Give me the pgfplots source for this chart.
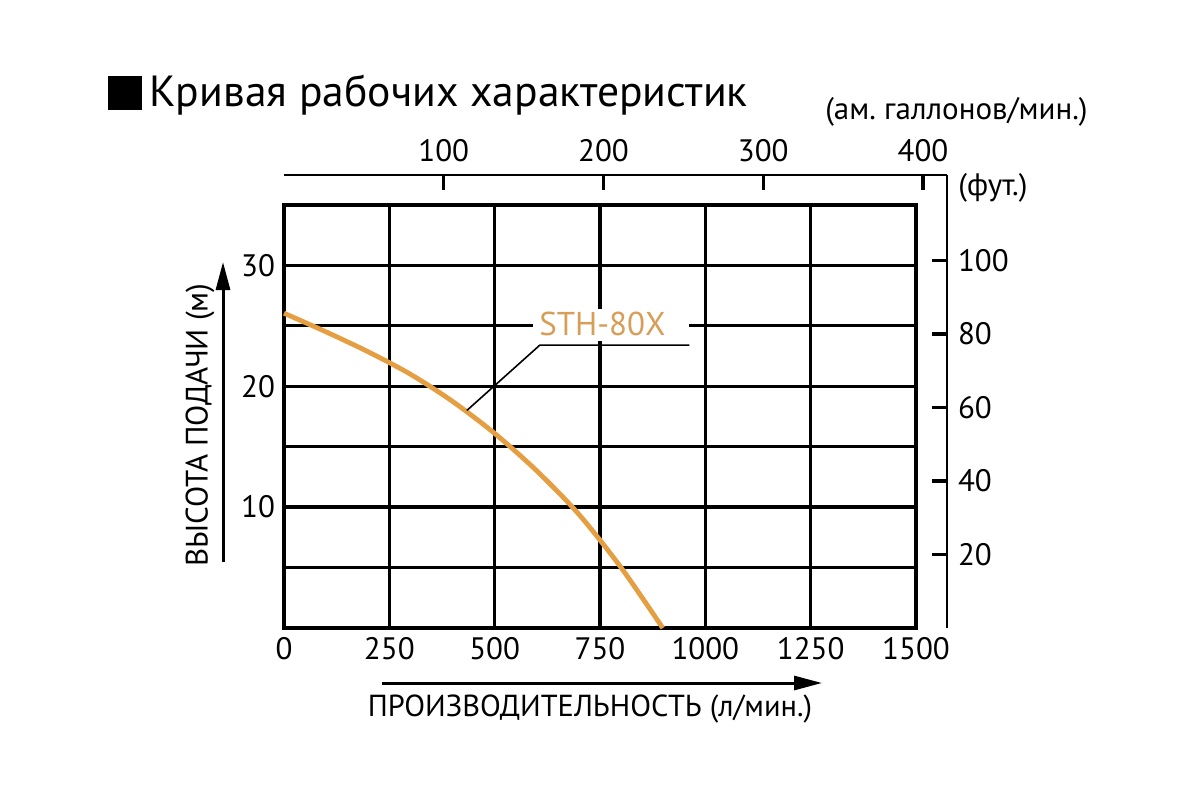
\documentclass[border=0pt]{standalone}
\usepackage{pgfplots}
\pgfplotsset{compat=1.18}
\usetikzlibrary{arrows.meta}
\usepackage{fontspec}
\setmainfont{PT Sans}
\frenchspacing
\definecolor{curve}{RGB}{230,158,66}
\definecolor{lbl}{RGB}{216,158,88}

\begin{document}
\begin{tikzpicture}
\useasboundingbox (0,0) rectangle (600pt,400pt);

% title
\fill (54pt,345pt) rectangle (71pt,362pt);
\node[anchor=base west, inner sep=0pt, font=\fontsize{21.8}{24}\selectfont] at (74.5pt,346.5pt) {Кривая рабочих характеристик};

% secondary scales: US gallons per minute (top) and feet (right)
\begin{axis}[
  at={(142pt,86pt)}, anchor=south west, scale only axis,
  width=331.5pt, height=226.5pt,
  xmin=0, xmax=415.0, ymin=0, ymax=123.3,
  axis x line*=top, axis y line*=right,
  xtick={100,200,300,400}, ytick={20,40,60,80,100},
  tick align=inside, major tick length=7.5pt,
  tick style={line width=1.6pt, black},
  axis line style={line width=1pt, black},
  tick label style={font=\fontsize{15.5}{18}\selectfont},
  /pgf/number format/assume math mode=true,
  xticklabel style={yshift=3pt},
  yticklabel style={xshift=2pt},
]
\end{axis}

% main chart: head (m) versus flow (l/min)
\begin{axis}[
  at={(142pt,86pt)}, anchor=south west, scale only axis,
  width=316pt, height=211.5pt,
  xmin=0, xmax=1500, ymin=0, ymax=35,
  xtick={0,250,...,1500}, ytick={10,20,30}, minor ytick={5,15,25},
  grid=both,
  major grid style={black, line width=1.75pt},
  minor grid style={black, line width=1.4pt},
  axis line style={line width=2pt, black},
  major tick length=0pt, minor tick length=0pt,
  tick label style={font=\fontsize{15.5}{18}\selectfont},
  /pgf/number format/assume math mode=true,
  /pgf/number format/1000 sep={},
  xticklabel style={yshift=-1pt},
  yticklabel style={xshift=-1pt},
  clip=false,
]
\addplot[curve, line width=2.4pt, smooth] coordinates {
  (0,26.05) (100,24.5) (200,22.85) (300,21.0) (400,18.75) (500,16.1)
  (600,13.0) (700,9.4) (800,5.0) (899,0)
};
% series label with leader line
\fill[white] (axis cs:590,26.4) rectangle (axis cs:962,23.75);
\draw[black, line width=0.8pt] (axis cs:434,18.0) -- (axis cs:607,23.4) -- (axis cs:962,23.4);
\node[anchor=west, inner sep=0pt, text=lbl, font=\fontsize{16.5}{19}\selectfont] at (axis cs:605,25.15) {STH-80X};
\end{axis}

\node[anchor=west, inner sep=0pt, font=\fontsize{15.5}{18}\selectfont] at (479pt,306pt) {(фут.)};
\node[anchor=east, inner sep=0pt, font=\fontsize{15.5}{18}\selectfont] at (544pt,344pt) {(ам. галлонов/мин.)};

% axis titles with arrows
\draw[line width=1.5pt, -{Triangle[length=14pt,width=7pt]}] (111.5pt,119pt) -- (111.5pt,269pt);
\node[rotate=90, inner sep=0pt, font=\fontsize{15.5}{18}\selectfont] at (100pt,187.5pt) {ВЫСОТА ПОДАЧИ (м)};
\draw[line width=1.5pt, -{Triangle[length=14pt,width=7pt]}] (191pt,58.5pt) -- (411pt,58.5pt);
\node[inner sep=0pt, font=\fontsize{15.2}{18}\selectfont] at (295pt,45.5pt) {ПРОИЗВОДИТЕЛЬНОСТЬ (л/мин.)};
\end{tikzpicture}
\end{document}
